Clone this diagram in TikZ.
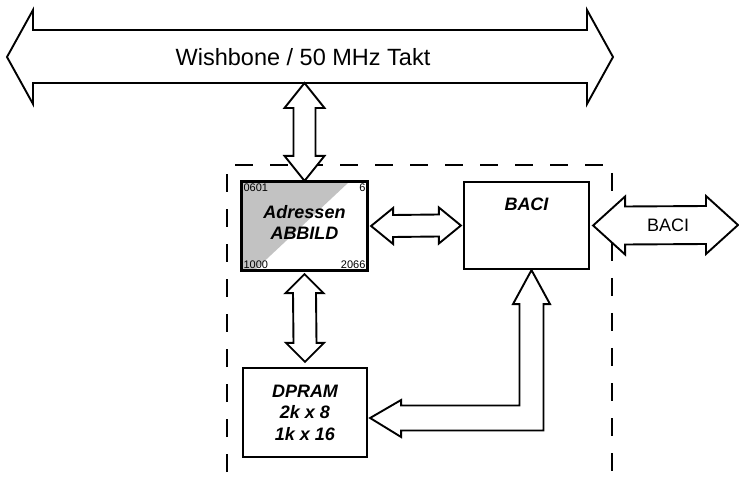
\documentclass[tikz,border=0pt]{standalone}
\usepackage{fontspec}
\setmainfont{Liberation Sans}
\usetikzlibrary{calc,positioning}

% fette Doppelpfeile (Spitze a, Spitze b, halbe Schaftbreite, halbe Kopfbreite, Kopflaenge)
\newcommand{\vfat}[5]{%
  \draw[fat] (#1) -- ($(#1)+(#4,#5)$) -- ($(#1)+(#3,#5)$) -- ($(#2)+(#3,-#5)$)
    -- ($(#2)+(#4,-#5)$) -- (#2) -- ($(#2)+(-#4,-#5)$) -- ($(#2)+(-#3,-#5)$)
    -- ($(#1)+(-#3,#5)$) -- ($(#1)+(-#4,#5)$) -- cycle;}
\newcommand{\hfat}[5]{%
  \draw[fat] (#1) -- ($(#1)+(#5,-#4)$) -- ($(#1)+(#5,-#3)$) -- ($(#2)+(-#5,-#3)$)
    -- ($(#2)+(-#5,-#4)$) -- (#2) -- ($(#2)+(-#5,#4)$) -- ($(#2)+(-#5,#3)$)
    -- ($(#1)+(#5,#3)$) -- ($(#1)+(#5,#4)$) -- cycle;}

\begin{document}
\begin{tikzpicture}[x=1pt,y=-1pt,
    box/.style={draw, line width=2.2pt, inner sep=0pt},
    fat/.style={draw, line width=1.9pt, fill=white, line join=miter},
    lbl/.style={font=\fontsize{18}{21.5}\selectfont\bfseries\itshape, align=center},
    txt/.style={font=\fontsize{18}{21}\selectfont},
    tiny/.style={font=\fontsize{11}{12}\selectfont, inner sep=2.5pt}]

    \useasboundingbox (0,0) rectangle (739,478);

    % -------------------------------
    % gestrichelter Rahmen
    % -------------------------------
    \draw[line width=2.4pt, dash pattern=on 18pt off 17pt]
        (227,472) -- (227,165) -- (612,165) -- (612,472);

    % -------------------------------
    % Wishbone-Bus
    % -------------------------------
    \draw[fat] (7,57) -- (33,10) -- (33,30) -- (587,30) -- (587,10) -- (613,57)
        -- (587,104) -- (587,83) -- (33,83) -- (33,104) -- cycle;
    \node[txt, font=\fontsize{23.5}{26}\selectfont] (wb) at (303,57) {Wishbone / 50 MHz Takt};
    \coordinate (busbot) at (0,83);

    % -------------------------------
    % Bloecke
    % -------------------------------
    \node[box, fill=white, minimum width=125, minimum height=88,
        path picture={\fill[black!24] (path picture bounding box.north west)
            -- ([xshift=107pt]path picture bounding box.north west)
            -- ([xshift=13pt]path picture bounding box.south west)
            -- (path picture bounding box.south west) -- cycle;}] (adr) at (304.5,226) {};
    \draw[line width=2.2pt] (adr.north west) rectangle (adr.south east);
    \node[lbl] (adrt) at ([yshift=3.5pt]adr.center) {Adressen\\ABBILD};
    \node[tiny, anchor=north west] (adrnw) at (adr.north west) {0601};
    \node[tiny, anchor=north east] (adrne) at (adr.north east) {6};
    \node[tiny, anchor=south west] (adrsw) at (adr.south west) {1000};
    \node[tiny, anchor=south east] (adrse) at (adr.south east) {2066};

    \node[box, minimum width=125, minimum height=87] (baci) at (526.5,225.5) {};
    \node[lbl] (bacit) at (526.5,204) {BACI};

    \node[box, lbl, minimum width=124, minimum height=89] (dpram) at (305,412.5)
        {DPRAM\\2k x 8\\1k x 16};

    % -------------------------------
    % Verbindungen
    % -------------------------------
    \vfat{adr.north |- busbot}{adr.north}{11}{20}{25}
    \vfat{[yshift=-3pt]adr.south}{[yshift=5pt]dpram.north}{11.5}{19}{19}
    \hfat{[xshift=3pt]adr.east}{[xshift=-2pt]baci.west}{11}{18}{22}

    \coordinate (bacout) at (738,225);
    \hfat{[xshift=3pt]baci.east}{bacout}{19}{29}{32}
    \node[txt] (bacil) at (668,225) {BACI};

    % BACI <-> DPRAM (abgewinkelt)
    \coordinate (U) at ([xshift=5pt]baci.south);
    \coordinate (D) at ([xshift=2pt,yshift=-5.5pt]dpram.east);
    \draw[fat] (U) -- ($(U)+(18.5,34)$) -- ($(U)+(12,34)$) -- ($(U|-D)+(12,12.5)$)
        -- ($(D)+(31,12.5)$) -- ($(D)+(31,19)$) -- (D) -- ($(D)+(31,-18)$)
        -- ($(D)+(31,-12.5)$) -- ($(U|-D)+(-12,-12.5)$) -- ($(U)+(-12,34)$)
        -- ($(U)+(-18.5,34)$) -- cycle;

\end{tikzpicture}
\end{document}
